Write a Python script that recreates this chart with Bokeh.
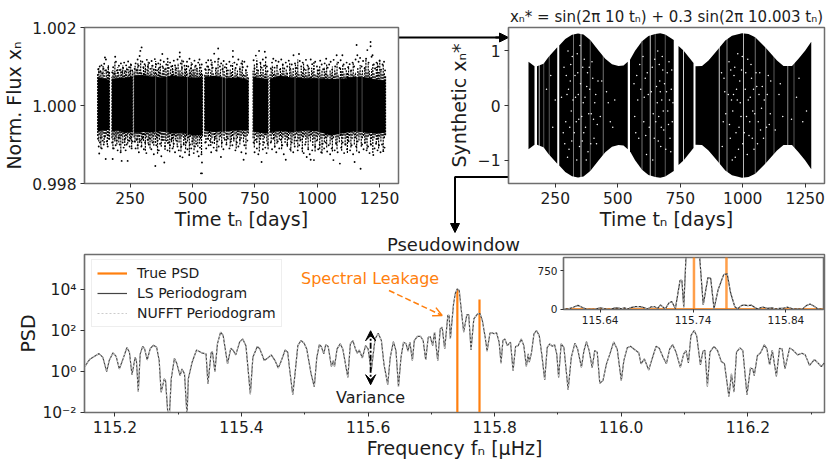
import numpy as np
from bokeh.embed import file_html
from bokeh.resources import INLINE
from bokeh.plotting import figure
from bokeh.layouts import column
from bokeh.models import (Range1d, FixedTicker, Label, Arrow, NormalHead, OpenHead, VeeHead,
                          Legend, LegendItem, NumeralTickFormatter)

FONT = "DejaVu Sans"
INK = "#1c1c1c"
EDGE = "#6e6e6e"
ORANGE = "#ff7f0e"

# ---- observing segments (days)
seg_start = [120, 177, 266, 549, 743, 811]
seg_end = [167, 260, 540, 724, 803, 1274]

# ---- top-left panel: dense core of the flux cloud (parts per thousand around 1)
core_t = [120,140,167, 177,200,230,260, 266,300,340,380,420,460,500,540, 549,590,630,680,724, 743,775,803,
          811,850,900,950,1000,1050,1100,1150,1200,1240,1274]
core_hi = [.72,.70,.66, .68,.70,.72,.74, .76,.78,.74,.72,.76,.74,.72,.70, .74,.76,.70,.72,.66, .74,.70,.68,
           .68,.76,.72,.70,.70,.68,.68,.74,.72,.66,.64]
core_lo = [-.66,-.64,-.62, -.66,-.64,-.70,-.68, -.70,-.68,-.68,-.66,-.72,-.70,-.76,-.76, -.66,-.68,-.66,-.64,-.64,
           -.66,-.70,-.72, -.68,-.66,-.68,-.64,-.66,-.76,-.72,-.66,-.70,-.72,-.70]
flux_pale_t = [352, 397, 620, 632, 911, 1007, 1160, 1180, 1090, 480]

# jagged fringe of the cloud, readings evenly along each segment (hundredths of a ppt)
fringe_up = [
 [82,96,78,88,74,101,83,72,92,79,105,86],
 [74,91,80,112,84,76,98,81,73,94,86,104,77,89,82,99,75,93,84,108,79,88],
 [88,102,79,96,110,84,92,118,86,76,99,88,105,81,93,112,78,90,84,103,76,95,87,114,83,79,98,90,108,77,86,101,92,80,97,84,116,89,75,94,83,106,88,79,100,91,76,109,85,93,81,120,87,77,98,90,104,82,74,95,86,111,80,92,84,102,78,97,89,76,107,85,93,81],
 [79,94,83,103,76,90,112,85,78,97,88,120,82,93,76,106,89,79,99,84,75,92,86,108,77,96,83,90,74,101,87,116,80,78,94,85,74],
 [89,106,82,120,91,78,110,85,97,80,114,88,76],
 [80,93,104,84,90,79,101,87,76,96,83,106,89,78,94,86,74,111,92,82,99,77,105,88,118,84,76,95,87,109,80,93,78,101,86,75,97,89,113,82,77,94,85,103,79,90,76,99,87,108,81,74,92,84,100,78,94,86,112,80,75,97,88,105,82,76,93,85,101,77,90,83,110,79,86,75,96,88,104,81,92,76,99,118,84,108,89,77,94,106,83,76,99,112,86,120,92,80,105,85,76,96,83,101,78,90,74]]
fringe_dn = [
 [78,92,75,110,84,72,96,81,74,101,79,88],
 [84,112,76,92,81,100,73,95,85,118,78,90,74,104,86,79,98,72,93,82,107,77],
 [82,95,74,88,112,80,96,74,105,84,91,76,116,82,74,98,86,110,77,92,80,103,75,96,84,124,79,88,74,106,83,91,76,114,85,78,99,82,120,74,94,86,108,77,88,80,102,76,95,84,118,80,75,99,87,112,78,92,84,128,81,76,102,88,115,80,94,83,106,78,98,86,122,79,76,92],
 [80,96,74,88,78,104,84,76,99,82,118,75,90,80,108,77,86,74,98,83,76,105,88,78,92,74,110,84,76,100,86,74,94,80,112,78,72],
 [84,108,76,96,82,118,88,78,104,84,76,92,112,90],
 [78,94,74,86,108,80,98,75,88,78,112,84,76,96,82,106,86,74,118,90,78,100,84,74,108,86,92,78,120,82,76,96,84,110,79,92,76,104,86,118,80,90,76,112,85,124,78,94,84,108,80,76,100,88,118,84,76,98,112,82,94,78,116,86,76,102,84,122,92,78,108,86,74,100,84,118,78,90,76,106,84,78,98,88,112,80,76,102,86,122,84,76,96,88,110,80,92,78,116,84,76]]

flux_upper = [(122,.93),(125,.85),(128,1.0),(131,.88),(135,1.03),(138,.82),(143,.95),(146,1.07),(149,1.23),(150,.9),(153,1.18),(158,.86),(162,.97),(165,.84),
 (178,.85),(182,.98),(186,.82),(190,1.25),(193,1.12),(197,.9),(201,.84),(205,1.02),(209,.91),(213,1.08),(218,.86),(222,.96),(226,1.1),(230,.88),(234,1.03),(238,.92),(242,1.13),(246,.98),(250,.87),(254,1.04),(258,.9),
 (268,.94),(272,1.08),(276,.9),(280,1.18),(284,1.02),(288,1.27),(291,1.4),(296,1.49),(299,1.12),(303,.98),(308,1.06),(312,.92),(317,1.17),(321,1.0),(326,1.09),(331,.94),(336,1.14),(340,1.02),(345,.92),(349,1.19),(354,1.05),(358,.9),(363,1.08),(367,.97),(372,1.16),(379,1.32),(380,1.0),(385,1.12),(390,.93),(395,1.05),(400,1.2),(405,.96),(410,1.1),(415,1.0),(420,.92),(425,1.15),(430,1.03),(435,.95),(440,1.18),(449,1.36),(449,1.25),(453,1.08),(458,.96),(463,1.13),(468,1.02),(473,.92),(478,1.12),(483,1.0),(488,1.2),(493,.95),(498,1.06),(503,.9),(508,1.15),(513,1.02),(518,.94),(523,1.1),(528,1.18),(533,.97),(537,1.05),
 (551,.93),(555,1.1),(559,1.0),(563,1.16),(568,.92),(574,1.16),(576,1.05),(581,.97),(587,1.33),(590,1.12),(595,.95),(603,1.46),(605,1.2),(610,1.0),(615,1.08),(620,.93),(625,1.14),(630,.98),(636,1.06),(642,.9),(648,1.12),(654,1.02),(662,1.25),(662,1.4),(668,1.1),(673,.96),(678,1.05),(684,1.18),(690,.93),(696,1.08),(702,.98),(708,1.12),(714,.9),(720,1.0),
 (745,1.16),(749,.95),(754,1.28),(758,1.05),(763,.9),(767,1.4),(772,1.1),(777,.97),(782,1.18),(787,1.02),(790,1.38),(794,1.23),(798,1.0),(801,.88),
 (814,.95),(819,1.1),(824,1.2),(829,.97),(834,1.15),(839,1.02),(845,1.12),(851,.92),(856,1.18),(862,1.05),(868,.95),(874,1.1),(880,1.0),(886,1.15),(892,.94),(898,1.05),(905,1.29),(911,1.08),(918,.96),(927,1.32),(930,1.14),(936,1.0),(942,1.1),(948,.93),(955,1.17),(961,1.03),(967,.95),(974,1.18),(980,1.06),(986,.94),(992,1.12),(999,1.0),(1005,.9),(1012,1.15),(1018,1.05),(1024,.93),(1030,1.08),(1036,1.2),(1042,.97),(1048,1.05),(1054,1.12),(1060,.92),(1066,1.17),(1072,1.0),(1078,1.29),(1084,1.1),(1090,.96),(1094,1.16),(1101,1.29),(1106,1.05),(1112,.94),(1118,1.1),(1124,.98),(1130,1.06),(1136,.9),(1142,1.1),(1148,1.0),(1154,1.18),(1158,1.55),(1161,1.29),(1166,1.12),(1172,1.22),(1178,1.0),(1184,1.14),(1190,.95),(1196,1.2),(1201,1.42),(1206,1.1),(1214,1.63),(1214,1.52),(1218,1.25),(1222,1.29),(1227,1.05),(1232,.95),(1238,1.1),(1244,1.0),(1250,1.15),(1256,.92),(1262,1.05),(1268,1.12),(1272,.9)]

flux_lower = [(121,-.85),(124,-1.05),(126,-1.23),(129,-.95),(132,-.82),(136,-1.1),(140,-.9),(144,-1.0),(148,-.8),(152,-1.37),(156,-.92),(160,-1.05),(164,-.85),
 (178,-.95),(180,-1.37),(184,-1.1),(188,-.85),(192,-1.02),(196,-.9),(200,-1.15),(204,-.82),(208,-1.0),(212,-1.2),(216,-1.42),(220,-.95),(224,-1.08),(228,-.88),(232,-1.15),(236,-1.0),(240,-1.42),(244,-.9),(248,-1.05),(252,-.85),(256,-1.1),(259,-.92),
 (268,-.92),(272,-1.1),(276,-.88),(280,-1.02),(285,-1.2),(290,-.9),(295,-1.05),(300,-.84),(305,-1.12),(310,-.95),(315,-1.22),(320,-.88),(325,-1.0),(330,-.85),(335,-1.12),(340,-.95),(345,-1.25),(351,-1.55),(355,-1.02),(360,-.9),(365,-1.15),(370,-.98),(375,-1.3),(380,-.88),(387,-1.46),(390,-1.05),(395,-.9),(400,-1.15),(405,-.95),(410,-1.02),(415,-.88),(420,-1.1),(425,-.98),(430,-1.2),(435,-.9),(440,-1.05),(445,-1.15),(450,-1.3),(455,-1.05),(460,-1.33),(465,-1.0),(470,-1.2),(475,-.95),(480,-1.12),(487,-1.27),(490,-1.0),(495,-1.1),(500,-.92),(505,-1.22),(510,-1.05),(515,-.98),(520,-1.18),(525,-1.3),(530,-1.08),(534,-1.74),(538,-1.74),(538,-1.46),(536,-1.25),
 (551,-.95),(555,-1.1),(560,-.85),(565,-1.02),(570,-.9),(575,-1.2),(580,-.95),(585,-1.08),(590,-.85),(595,-1.15),(600,-.92),(605,-1.05),(614,-1.32),(618,-.95),(624,-1.12),(630,-.88),(636,-1.0),(642,-.85),(648,-1.1),(654,-.92),(660,-1.02),(666,-.85),(672,-1.15),(678,-.95),(684,-1.05),(690,-.88),(696,-1.2),(705,-1.39),(708,-1.02),(714,-1.23),(720,-.9),
 (745,-.95),(749,-1.2),(754,-.88),(758,-1.1),(764,-1.25),(770,-.98),(777,-1.45),(782,-1.12),(787,-.95),(792,-1.08),(797,-1.22),(801,-.98),
 (814,-.95),(819,-1.12),(824,-.85),(830,-1.05),(836,-1.2),(842,-.92),(848,-1.1),(854,-.88),(860,-1.02),(866,-1.25),(874,-1.39),(880,-1.0),(886,-.85),(892,-1.12),(898,-.95),(904,-1.2),(910,-1.05),(916,-.9),(922,-1.15),(928,-1.02),(934,-.88),(940,-1.1),(946,-1.22),(952,-1.0),(958,-1.32),(964,-1.12),(970,-1.25),(974,-1.39),(980,-1.15),(987,-1.4),(992,-1.05),(998,-.9),(1004,-1.12),(1010,-1.0),(1016,-1.2),(1022,-.98),(1028,-1.1),(1034,-.95),(1040,-1.18),(1046,-1.02),(1052,-1.25),(1058,-1.1),(1065,-1.4),(1070,-1.15),(1076,-.98),(1082,-1.2),(1091,-1.49),(1096,-1.08),(1102,-.95),(1108,-1.22),(1114,-1.0),(1120,-1.12),(1126,-.92),(1132,-1.15),(1138,-1.02),(1144,-1.25),(1150,-1.45),(1156,-1.05),(1162,-.92),(1168,-1.2),(1174,-1.62),(1180,-1.0),(1186,-1.12),(1192,-.95),(1198,-1.15),(1204,-1.05),(1210,-1.22),(1216,-1.0),(1225,-1.27),(1230,-1.1),(1236,-.98),(1242,-1.15),(1248,-1.02),(1254,-1.2),(1260,-1.0),(1265,-1.17),(1270,-1.08)]

# ---- top-right panel: envelope of the synthetic signal
env_t = [119,143,167, 177,203,223,258, 266,290,317,341,363,390,423,450,477,503,523,540,
         549,570,597,623,650,670,690,724, 743,763,803,
         811,837,863,897,930,957,997,1023,1050,1090,1137,1163,1197,1223,1250,1274]
env_amp = [.845,.80,.72, .72,.766,.887,1.07, 1.10,1.22,1.295,1.32,1.30,1.20,1.01,.857,.754,.723,.735,.80,
           .84,1.01,1.18,1.276,1.313,1.325,1.30,1.20, 1.09,1.01,.78,
           .72,.723,.827,1.01,1.19,1.277,1.325,1.313,1.25,1.07,.827,.723,.723,.857,1.01,1.17]
synth_white_t = [186, 204, 226, 353, 323, 390, 442, 597, 630, 650, 690, 763, 906, 937, 1003, 1050, 1092, 1125, 1180, 1205]
synth_white_a = [.8, .4, .4, .9, .5, .4, .5, .5, .9, .4, .4, .9, .9, .6, .8, .5, .6, .4, .6, .4]
synth_specks = [(285,.7),(292,-.3),(297,.2),(301,1.0),(305,-.8),(310,.45),(314,-.1),(318,.9),(326,-.5),(331,.15),(336,-1.0),(340,.6),(344,-.25),(349,1.1),(358,-.65),(362,.05),(366,.85),(371,-.4),(376,.35),(381,-.85),(386,.7),(394,-.15),(400,.5),(405,-.6),(412,.2),(418,-.35),
 (288,-.7),(294,.55),(299,-.95),(303,.3),(308,-.4),(312,.75),(316,-.65),(321,.1),(329,.55),(334,-.3),(338,.95),(342,.2),(347,-.75),(351,.4),(356,-.2),(360,.7),(364,-.5),(369,.15),(374,-1.0),(379,.6),(384,-.15),(388,.3),(392,-.7),(397,.8),(403,-.25),(408,.05),(415,-.7),(421,.45),
 (565,.4),(572,-.5),(580,.1),(588,.75),(604,-.3),(610,.5),(615,-.9),(622,.2),(638,.7),(642,-.15),(646,-.6),(655,.35),(660,1.0),(664,-.2),(668,.45),(672,-.75),(676,.1),(680,.65),(684,-.45),(695,.25),(700,-.1),(705,.8),(709,-.6),(714,.3),(718,-.3),
 (568,-.2),(576,.55),(584,-.6),(592,.3),(601,.9),(606,.15),(612,-.55),(618,.6),(626,-.4),(634,.25),(640,-1.0),(648,.85),(652,-.3),(658,.05),(662,-.65),(666,.75),(670,.25),(674,-.4),(678,.9),(682,-.1),(687,.4),(692,-.8),(698,.6),(703,-.35),(707,.1),(712,-.85),(716,.65),(721,.05),
 (915,.6),(922,-.3),(928,.25),(945,.8),(950,-.6),(955,.1),(960,-.1),(965,.55),(970,-.95),(975,.3),(980,.95),(985,-.4),(990,.05),(995,.65),(1000,-.7),(1010,.3),(1015,-.2),(1020,.85),(1025,-.55),(1030,.15),(1035,.5),(1040,-.1),(1045,-.8),(1056,.35),(1062,-.3),(1068,.6),(1075,-.05),(1083,-.6),(1098,.2),(1106,-.35),(1112,.45),
 (918,-.75),(925,.5),(932,-.15),(942,.2),(947,-.35),(952,.65),(958,-1.0),(963,.2),(968,.7),(973,-.5),(978,.1),(983,-.8),(988,.45),(993,-.2),(998,.9),(1006,-.5),(1012,.6),(1018,-.9),(1022,.1),(1028,-.3),(1033,.75),(1038,-.6),(1043,.3),(1048,-.15),(1053,.6),(1059,-.7),(1065,.2),(1071,-.45),(1078,.35),(1086,.1),(1095,-.4),(1102,.55),(1110,-.15),
 (215,.3),(240,-.4),(275,.15),(455,.25),(470,-.3),(488,.1),(1145,.2),(1160,-.2),(1215,.15),(1240,-.3),(232,.55),(250,.1),(282,-.5),(430,-.2),(436,.45),(462,.05),(480,-.4),(1130,-.45),(1150,.4),(1195,-.25),(1225,.5),(1255,-.1)]

# ---- bottom panel: periodogram (frequency in microHz, log10 PSD)
psd_f = [115.153,115.157,115.161,115.168,115.175,115.181,115.187,115.191,115.197,115.202,115.207,115.212,115.219,115.223,115.227,115.232,115.234,115.237,115.240,115.244,115.247,115.251,115.256,115.261,115.266,115.270,115.273,115.278,115.280,115.284,115.286,115.289,115.294,115.298,115.303,115.306,115.310,115.314,115.316,115.322,115.329,115.337,115.344,115.347,115.352,115.354,115.358,115.362,115.367,115.371,115.378,115.383,115.387,115.391,115.397,115.402,115.407,115.414,115.418,115.425,115.429,115.436,115.441,115.447,
 115.453,115.458,115.462,115.469,115.473,115.476,115.481,115.484,115.489,115.494,115.499,115.503,115.510,115.515,115.519,115.523,115.526,115.530,115.533,115.537,115.542,115.545,115.547,115.551,115.556,115.560,115.568,115.572,115.576,115.580,115.583,115.586,115.591,115.596,115.600,115.605,115.611,115.616,115.621,115.625,115.631,115.635,115.640,115.644,115.648,115.652,115.656,115.660,115.663,115.666,115.670,115.673,115.678,115.683,115.687,115.691,115.695,115.698,115.702,115.705,115.710,115.714,115.717,115.721,115.726,115.728,115.730,115.735,115.738,115.741,115.744,115.7473,115.751,115.756,115.759,115.7626,115.767,115.773,115.7768,115.7805,115.785,115.788,115.7925,115.796,115.799,115.803,115.807,115.810,115.813,115.816,115.8199,115.825,115.829,115.833,115.837,115.842,115.846,115.850,115.853,115.8546,115.858,115.862,115.866,115.8704,115.8746,115.879,115.883,115.887,115.891,115.8946,115.898,115.901,115.905,115.9093,115.916,115.921,115.9267,115.931,115.937,115.941,115.945,115.9493,115.954,115.958,115.962,115.966,115.971,115.9766,115.982,115.988,115.9935,116.000,116.004,116.0093,116.0145,116.0208,116.0276,
 116.0312,116.0365,116.0433,116.0486,116.055,116.060,116.066,116.0712,116.0765,116.0812,116.0865,116.0933,116.0986,116.1023,116.106,116.110,116.115,116.119,116.125,116.129,116.132,116.136,116.140,116.1465,116.152,116.158,116.163,116.170,116.174,116.178,116.182,116.1875,116.192,116.1985,116.204,116.2075,116.210,116.215,116.220,116.226,116.230,116.2343,116.2385,116.245,116.250,116.254,116.2585,116.266,116.272,116.2785,116.2853,116.2906,116.2974,116.305,116.3105,116.316,116.322]
psd_log10 = [.26,.46,.62,.75,.88,.70,.00,.54,.92,.75,.13,.54,1.18,.95,-.16,.70,.54,-.98,.87,1.24,1.11,.57,1.14,1.29,1.19,.54,-1.01,-.36,-.44,-2.2,-2.2,-.36,.65,.38,-.20,.13,-.11,-2.2,-.36,.46,1.06,.92,.87,-.60,.92,.98,.0,1.36,1.93,1.77,.38,1.14,1.03,.82,1.44,1.60,1.27,-1.10,.70,1.23,1.11,.54,.65,.82,
 .54,.18,.46,1.06,.95,.13,-1.13,-.28,1.27,1.52,1.39,1.11,-.11,-.74,.70,1.32,1.23,.87,1.31,1.23,.25,.54,.25,1.11,1.36,1.11,-.28,1.36,1.52,1.11,.90,1.06,.67,1.27,1.11,.05,1.60,1.88,1.52,.38,-.64,.70,1.47,1.03,-.74,.70,1.44,1.36,1.0,1.44,.54,1.52,1.72,1.72,1.52,.57,1.68,1.72,1.27,1.93,.54,2.09,2.18,1.11,2.75,2.75,1.60,3.32,3.85,4.05,3.97,2.99,1.93,2.79,2.78,1.06,2.58,2.83,2.84,2.50,1.68,1.0,1.88,1.9,1.85,1.9,1.44,.41,1.52,1.6,1.27,1.44,.05,1.23,1.27,1.6,1.27,.25,.87,.46,.9,1.85,2.01,1.76,.78,-.41,1.19,1.36,1.24,1.32,.87,-.28,1.36,1.19,-.90,.70,1.39,1.11,.21,1.03,1.47,1.03,.18,1.03,.95,-.57,-.44,.38,.87,1.45,1.11,-.44,.54,1.16,1.24,1.08,.92,
 .38,.62,.08,.62,1.24,1.14,.70,.38,1.11,1.32,.95,.21,.87,1.03,.43,1.76,2.01,1.76,.33,1.0,1.05,-.72,.95,1.24,1.03,.49,.38,-1.22,-.11,-1.0,.95,1.16,1.03,-1.14,.18,.13,-.20,.78,.92,1.31,1.11,.33,1.05,-.23,1.14,1.11,.13,1.16,1.03,.82,.90,.82,.30,.59,.43,.25,.46]
true_f = [115.741, 115.776]
true_psd = [10000, 3400]

x_ticks_top = [250, 500, 750, 1000, 1250]
psd_ticks = [0.01, 1, 100, 10000]
psd_tick_text = {0.01: "10\u207b\u00b2", 1: "10\u2070", 100: "10\u00b2", 10000: "10\u2074"}
freq_ticks = [115.2, 115.4, 115.6, 115.8, 116.0, 116.2]
freq_minor = [115.3, 115.5, 115.7, 115.9, 116.1, 116.3]
inset_ticks = [115.64, 115.74, 115.84]


def pos(left, top):
    return {"position": "absolute", "left": f"{left}px", "top": f"{top}px"}


def style(p, tick=15.5, label=19):
    p.outline_line_color = EDGE
    p.outline_line_width = 1.5
    p.grid.visible = False
    p.border_fill_color = None
    p.background_fill_color = "white"
    for ax in (p.xaxis[0], p.yaxis[0]):
        ax.axis_line_color = EDGE
        ax.axis_line_width = 1.2
        ax.major_tick_line_color = "#333333"
        ax.major_tick_in = 0
        ax.major_tick_out = 4
        ax.minor_tick_line_color = None
        ax.major_label_text_font = FONT
        ax.major_label_text_font_size = f"{tick}px"
        ax.major_label_text_color = INK
        ax.axis_label_text_font = FONT
        ax.axis_label_text_font_style = "normal"
        ax.axis_label_text_font_size = f"{label}px"
        ax.axis_label_text_color = INK
        ax.major_label_standoff = 4


def mask_seg(t, i):
    t = np.asarray(t)
    return (t >= seg_start[i]) & (t <= seg_end[i])


# ---------- overlay with connectors and free titles (image pixel coordinates)
ov = figure(frame_width=830, frame_height=260, x_range=Range1d(0, 830), y_range=Range1d(260, 0),
            x_axis_location=None, y_axis_location=None, frame_align=False,
            output_backend="svg", toolbar_location=None, min_border=0, styles=pos(0, 0))
ov.grid.visible = False
ov.outline_line_color = None
ov.border_fill_color = None
ov.background_fill_color = None
ov.line([398, 500], [37, 37], line_color="black", line_width=2)
ov.add_layout(Arrow(end=NormalHead(size=9, fill_color="black", line_color="black"),
                    x_start=495, y_start=37, x_end=508, y_end=37, line_color="black", line_width=2))
ov.line([508, 454.5, 454.5], [176.5, 176.5, 225], line_color="black", line_width=2)
ov.add_layout(Arrow(end=NormalHead(size=9, fill_color="black", line_color="black"),
                    x_start=454.5, y_start=220, x_end=454.5, y_end=232, line_color="black", line_width=2))
ov.add_layout(Label(x=666, y=16, text="x\u2099* = sin(2\u03c0 10 t\u2099) + 0.3 sin(2\u03c0 10.003 t\u2099)",
                    text_font=FONT, text_font_size="15px", text_color=INK,
                    text_align="center", text_baseline="middle"))
ov.add_layout(Label(x=453, y=244, text="Pseudowindow", text_font=FONT, text_font_size="18px",
                    text_color=INK, text_align="center", text_baseline="middle"))

# ---------- top-left: flux
p1 = figure(frame_width=314, frame_height=156, x_range=Range1d(67, 1326), y_range=Range1d(0.998, 1.002),
            output_backend="svg", toolbar_location=None, min_border_left=120, min_border_top=18, frame_align=False,
            min_border_bottom=60, min_border_right=16, styles=pos(84 - 120, 27 - 18))
style(p1)
p1.xaxis.ticker = FixedTicker(ticks=x_ticks_top)
p1.yaxis.ticker = FixedTicker(ticks=[0.998, 1.0, 1.002])
p1.yaxis.formatter = NumeralTickFormatter(format="0.000")
p1.xaxis.axis_label = "Time t\u2099 [days]"
p1.yaxis.axis_label = "Norm. Flux x\u2099"
p1.xaxis.axis_label_standoff = 1
p1.yaxis.axis_label_standoff = 4
ct, chi, clo = np.array(core_t, float), 1 + np.array(core_hi) / 1000, 1 + np.array(core_lo) / 1000
for i in range(len(seg_start)):
    m = mask_seg(ct, i)
    p1.varea(ct[m], clo[m], chi[m], fill_color="black")
    fu, fd = fringe_up[i], fringe_dn[i]
    n = min(len(fu), len(fd))
    col_t = np.linspace(seg_start[i], seg_end[i], n)
    p1.segment(col_t, 1 - np.array(fd[:n]) / 1e5, col_t, 1 + np.array(fu[:n]) / 1e5,
               line_color="black", line_width=1.2, line_dash="2 1")
p1.segment(flux_pale_t, [0.9992] * len(flux_pale_t), flux_pale_t, [1.0008] * len(flux_pale_t),
           line_color="white", line_alpha=0.3, line_width=1)
for pts in (flux_upper, flux_lower):
    tt = [a for a, _ in pts]
    ff = [1 + b / 1000 for _, b in pts]
    p1.scatter(tt, ff, size=1.9, color="black", line_width=0)

# ---------- top-right: synthetic
p2 = figure(frame_width=316, frame_height=156, x_range=Range1d(63, 1327), y_range=Range1d(-1.43, 1.43),
            output_backend="svg", toolbar_location=None, min_border_left=120, min_border_top=18, frame_align=False,
            min_border_bottom=60, min_border_right=4, styles=pos(508 - 120, 27 - 18))
style(p2)
p2.xaxis.ticker = FixedTicker(ticks=x_ticks_top)
p2.yaxis.ticker = FixedTicker(ticks=[-1, 0, 1])
p2.yaxis.major_label_overrides = {-1: "\u22121", 0: "0", 1: "1"}
p2.xaxis.axis_label = "Time t\u2099 [days]"
p2.yaxis.axis_label = "Synthetic x\u2099*"
p2.xaxis.axis_label_standoff = 1
p2.yaxis.axis_label_standoff = 5
et, ea = np.array(env_t, float), np.array(env_amp)
for i in range(len(seg_start)):
    m = mask_seg(et, i)
    p2.varea(et[m], -ea[m], ea[m], fill_color="black")
p2.segment(synth_white_t, [-1.33] * len(synth_white_t), synth_white_t, [1.33] * len(synth_white_t),
           line_color="white", line_alpha=synth_white_a, line_width=0.9)
p2.scatter([a for a, _ in synth_specks], [b for _, b in synth_specks], size=1.5, color="white", line_width=0)

# ---------- bottom: periodogram
freq = np.array(psd_f)
psd = 10.0 ** np.array(psd_log10)
p3 = figure(frame_width=740, frame_height=158, x_range=Range1d(115.152, 116.321),
            y_axis_type="log", y_range=Range1d(0.01, 10 ** 5.73), frame_align=False,
            output_backend="svg", toolbar_location=None, min_border_left=86, min_border_top=8,
            min_border_bottom=50, min_border_right=4, styles=pos(84 - 86, 254 - 8))
style(p3)
p3.xaxis.ticker = FixedTicker(ticks=freq_ticks, minor_ticks=freq_minor)
p3.xaxis.minor_tick_line_color = "#333333"
p3.xaxis.minor_tick_in = 0
p3.xaxis.minor_tick_out = 2
p3.xaxis.formatter = NumeralTickFormatter(format="0.0")
p3.yaxis.ticker = FixedTicker(ticks=psd_ticks)
p3.yaxis.major_label_overrides = psd_tick_text
p3.xaxis.axis_label = "Frequency f\u2099 [\u03bcHz]"
p3.yaxis.axis_label = "PSD"
p3.xaxis.axis_label_standoff = 1
p3.yaxis.axis_label_standoff = 0
r_true = p3.segment(true_f, [0.001] * 2, true_f, true_psd, line_color=ORANGE, line_width=2.2)
r_ls = p3.line(freq, psd, line_color="#444444", line_width=1.2)
r_nu = p3.line(freq, psd, line_color="#cccccc", line_width=1, line_dash="2 2")
leg = Legend(items=[LegendItem(label="True PSD", renderers=[r_true]),
                    LegendItem(label="LS Periodogram", renderers=[r_ls]),
                    LegendItem(label="NUFFT Periodogram", renderers=[r_nu])],
             location=(7, 85), orientation="vertical", margin=0, padding=5, spacing=4,
             glyph_width=30, glyph_height=16, label_standoff=10, label_height=16,
             label_text_font=FONT, label_text_font_size="14px", label_text_color=INK,
             border_line_color="#dddddd", background_fill_color="white", background_fill_alpha=0.85)
p3.add_layout(leg)
p3.add_layout(Label(x=115.494, y=10 ** 4.56, text="Spectral Leakage", text_font=FONT, text_font_size="16px",
                    text_color=ORANGE, text_baseline="middle"))
p3.add_layout(Arrow(end=OpenHead(size=9, line_color=ORANGE, line_width=1.5),
                    x_start=115.633, y_start=10 ** 3.97, x_end=115.717, y_end=10 ** 2.745,
                    line_color=ORANGE, line_width=1.5, line_dash="6 3"))
p3.add_layout(Arrow(start=VeeHead(size=10, fill_color="black", line_color="black"),
                    end=VeeHead(size=10, fill_color="black", line_color="black"),
                    x_start=115.604, y_start=10 ** 2.0, x_end=115.604, y_end=10 ** -0.64,
                    line_color="black", line_width=1.8, line_dash="6 2 2 2"))
p3.add_layout(Label(x=115.604, y=10 ** -1.26, text="Variance", text_font=FONT, text_font_size="16px",
                    text_color=INK, text_align="center", text_baseline="middle"))

# ---------- inset
p4 = figure(frame_width=260, frame_height=52, x_range=Range1d(115.6005, 115.8805), y_range=Range1d(-5, 1010),
            output_backend="svg", toolbar_location=None, min_border_left=40, min_border_top=4, frame_align=False,
            min_border_bottom=24, min_border_right=2, styles=pos(563 - 40, 257 - 4))
style(p4, tick=10.5, label=10)
p4.xaxis.ticker = FixedTicker(ticks=inset_ticks)
p4.xaxis.formatter = NumeralTickFormatter(format="0.00")
p4.yaxis.ticker = FixedTicker(ticks=[0, 750])
p4.xaxis.major_tick_out = 3
p4.yaxis.major_tick_out = 3
p4.xaxis.major_label_standoff = 3
p4.yaxis.major_label_standoff = 3
p4.segment(true_f, [0, 0], true_f, true_psd, line_color=ORANGE, line_alpha=0.75, line_width=2.5)
p4.line([115.6005, 115.8805], [0, 0], line_color=ORANGE, line_alpha=0.75, line_width=2.5)
p4.line(freq, psd, line_color="#333333", line_width=1.2)
p4.line(freq, psd, line_color="#bbbbbb", line_width=1, line_dash="2 2")

root = column(ov, p1, p2, p3, p4, width=830, height=466, sizing_mode="fixed", spacing=0, styles=pos(0, 0))
open("out.html", "w").write(file_html(root, INLINE))
